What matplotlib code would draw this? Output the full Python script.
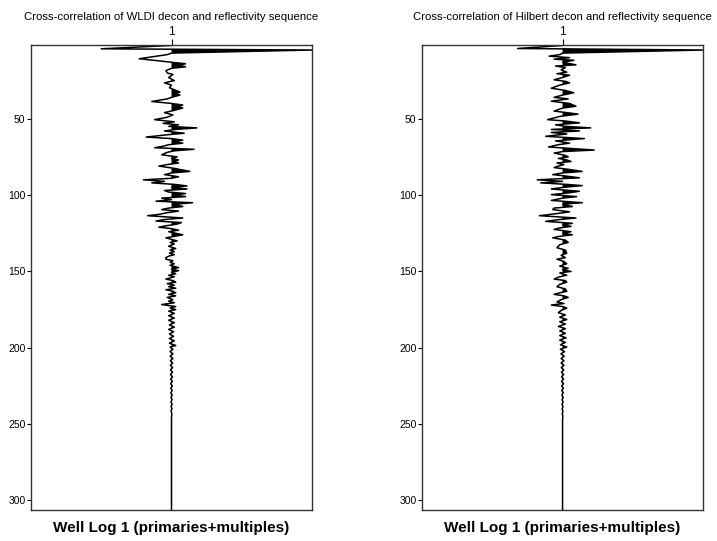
import numpy as np
import matplotlib
matplotlib.use('Agg')
import matplotlib.pyplot as plt

# --- Trace readings: (depth sample, normalised amplitude) picked off the plot
wldi_trace = [
    (0, 0), (2, 0), (4.2, -0.50), (5, 1.00), (7, 0.0), (8, -0.03), (10.7, -0.23),
    (12.5, -0.05), (14, 0.10), (15, 0.05), (16, 0.10), (17, 0.0), (18.5, -0.04),
    (20, -0.03), (21, 0.01), (23, -0.02), (25, 0.02), (26.5, -0.05), (28, 0.0),
    (29.7, -0.015), (31, 0.02), (32.5, 0.06), (33.5, 0.03), (34.5, 0.06), (36, 0.0),
    (37, -0.03), (38.7, -0.14), (40, 0.0), (41, 0.08), (42, 0.05), (43, 0.08),
    (44.5, 0.02), (46, -0.05), (47.5, 0.01), (49, -0.03), (50.6, -0.12), (52, 0.02),
    (53, -0.06), (54, 0.05), (55, -0.02), (56, 0.18), (57, 0.03), (58, -0.05),
    (59.5, 0.09), (60.5, -0.03), (62, -0.18), (63, 0.0), (64, 0.08), (65, 0.02),
    (66, 0.08), (67, -0.02), (68, -0.06), (69, -0.12), (70, 0.16), (71, 0.02),
    (72, -0.03), (73.6, -0.07), (75, 0.04), (76, 0.0), (77, 0.05), (78, 0.02),
    (79, 0.05), (80, -0.03), (81, -0.09), (82.5, 0.02), (84.5, 0.13), (85.5, 0.0),
    (86.6, -0.05), (88, 0.05), (89, 0.0), (90, -0.20), (91, -0.05), (92, -0.14),
    (93, 0.02), (94, 0.11), (95, 0.0), (96, 0.11), (97, -0.05), (98, -0.02),
    (99, 0.10), (100, 0.02), (101, 0.10), (102, -0.07), (103, 0.0), (104, -0.11),
    (105, 0.15), (106, 0.02), (107.5, 0.08), (108.5, -0.02), (109.5, -0.07),
    (110.5, 0.05), (111.5, -0.03), (112.5, -0.08), (113.5, -0.17), (115, 0.08),
    (116, -0.05), (117, -0.11), (118, 0.07), (119, 0.04), (120, -0.03), (121, -0.09),
    (122, 0.0), (123, 0.05), (124, -0.02), (125, 0.03), (126, 0.08), (127, 0.02),
    (128, -0.04), (129, 0.0), (130, 0.04), (131, -0.01), (132, 0.02), (133.5, -0.02),
    (135, 0.03), (136, -0.01), (137, 0.02), (138, -0.015), (139, 0.02), (140, -0.02),
    (141, -0.04), (142, -0.04), (143, 0.01), (144, -0.01), (145, 0.02), (146, -0.01),
    (147.5, 0.05), (148.5, 0.0), (149.5, 0.05), (150.5, 0.0), (151.5, 0.03),
    (152.5, -0.02), (153.5, 0.02), (155, -0.04), (156, 0.01), (157, 0.03),
    (158, -0.03), (159, 0.02), (160, -0.02), (161, 0.03), (162, -0.04), (163, 0.01),
    (164, 0.03), (165, -0.02), (166, 0.03), (167, -0.03), (168.5, 0.01),
    (169.5, -0.02), (170.5, 0.02), (171.7, -0.07), (173, 0.03), (174, -0.01),
    (175, 0.03), (176, -0.02), (177.5, 0.02), (179, -0.02), (180.5, 0.02),
    (182, -0.02), (183.5, 0.02), (185, -0.015), (186.5, 0.02), (188, -0.02),
    (189.5, 0.015), (191, -0.015), (192.5, 0.015), (194, -0.015), (195.5, 0.02),
    (197, -0.015), (198.5, 0.03), (199.5, -0.01), (201, 0.01), (202.5, -0.01),
    (204, 0.01), (205.5, -0.01), (207, 0.01), (208.5, -0.008), (210, 0.008),
    (211.5, -0.008), (213, 0.008), (214.5, -0.007), (216, 0.007), (217.5, -0.007),
    (219, 0.007), (220.5, -0.006), (222, 0.006), (223.5, -0.006), (225, 0.006),
    (226.5, -0.005), (228, 0.005), (229.5, -0.005), (231, 0.005), (232.5, -0.004),
    (234, 0.004), (235.5, -0.004), (237, 0.004), (238.5, -0.003), (240, 0.003),
    (241.5, -0.003), (243, 0.002), (246, 0), (306, 0),
]

hilbert_trace = [
    (0, 0), (2, 0), (4.0, -0.32), (5, 1.00), (7, 0.0), (8, -0.02), (9, -0.095),
    (10, 0.05), (11, -0.06), (11.7, 0.08), (13, 0.0), (14.7, 0.095), (15.5, -0.05),
    (16.5, 0.02), (18, -0.01), (19.5, 0.03), (20.5, -0.04), (21.5, 0.05), (23, 0.0),
    (24.5, -0.06), (25.5, 0.02), (26.5, 0.05), (28, -0.02), (30, -0.08),
    (31.5, 0.02), (33, 0.08), (34.5, 0.0), (36, -0.06), (37, 0.04), (38.5, -0.08),
    (40, 0.05), (41.8, 0.095), (43, 0.0), (45, -0.06), (46, 0.03), (47, 0.11),
    (48.5, -0.02), (50.6, -0.107), (51.5, 0.02), (52.7, 0.12), (54, -0.05),
    (55, 0.02), (56, 0.20), (57, -0.08), (58, 0.12), (59, -0.08), (60, 0.03),
    (61.5, -0.12), (63, 0.155), (64.5, -0.05), (66, 0.05), (67, -0.03),
    (68.5, -0.10), (70.5, 0.225), (71.5, 0.0), (72.5, -0.06), (74, 0.02),
    (75, 0.04), (76, -0.03), (77, 0.03), (78, 0.06), (79, -0.04), (80, 0.01),
    (81, -0.03), (82, -0.06), (83, 0.03), (84.5, 0.14), (85.5, 0.0), (86.6, -0.07),
    (87.5, 0.02), (88.7, 0.12), (90, -0.18), (91, 0.0), (92, -0.155), (93, 0.03),
    (93.8, 0.14), (95, 0.0), (96, -0.08), (97.5, 0.12), (98.5, 0.05), (99.7, -0.08),
    (101, 0.10), (102, 0.0), (103.5, -0.08), (105, 0.14), (106, 0.0), (107.5, 0.07),
    (108.5, -0.06), (109.5, -0.07), (111, 0.05), (112, -0.03), (113.5, -0.165),
    (115, 0.095), (116, -0.02), (117.2, -0.12), (118.5, 0.07), (119.5, 0.0),
    (120.5, 0.06), (121.5, -0.02), (122.5, -0.06), (124, 0.06), (125, 0.0),
    (126, 0.07), (127, -0.02), (128, -0.07), (129.5, 0.02), (131, 0.04),
    (132.5, -0.02), (134.5, -0.04), (136, 0.02), (138, 0.03), (139.5, -0.01),
    (141, 0.02), (142, -0.04), (143.5, 0.01), (145, 0.03), (146.5, -0.02),
    (148, 0.04), (149, 0.0), (150, 0.06), (151, -0.02), (152.5, 0.03),
    (153.5, -0.02), (155, -0.06), (156, 0.02), (157, 0.03), (158.5, -0.02),
    (160, -0.04), (161.5, 0.02), (163, 0.03), (164, -0.02), (165, -0.06),
    (166, 0.01), (167, 0.04), (168.5, -0.01), (170, -0.04), (171, 0.01),
    (172, -0.08), (173, 0.0), (174, 0.03), (175.5, -0.01), (177, -0.03),
    (178.5, 0.02), (180, -0.02), (181.5, 0.03), (183, -0.02), (184.5, 0.02),
    (186, -0.03), (187.5, 0.02), (189, -0.02), (190.5, 0.02), (192, -0.02),
    (193.5, 0.025), (195, -0.02), (196.5, 0.02), (198, -0.015), (199.5, 0.03),
    (201, -0.015), (202.5, 0.015), (204, -0.012), (205.5, 0.012), (207, -0.01),
    (208.5, 0.01), (210, -0.01), (211.5, 0.01), (213, -0.009), (214.5, 0.009),
    (216, -0.008), (217.5, 0.008), (219, -0.007), (220.5, 0.007), (222, -0.007),
    (223.5, 0.007), (225, -0.006), (226.5, 0.006), (228, -0.006), (229.5, 0.005),
    (231, -0.005), (232.5, 0.005), (234, -0.004), (235.5, 0.004), (237, -0.004),
    (238.5, 0.003), (240, -0.003), (241.5, 0.003), (243, -0.002), (245, 0.002),
    (247, 0), (306, 0),
]

titles = ['Cross-correlation of WLDI decon and reflectivity sequence',
          'Cross-correlation of Hilbert decon and reflectivity sequence']
xlabel = 'Well Log 1 (primaries+multiples)'
trace_labels = ['1']
yticks = [50, 100, 150, 200, 250, 300]

plt.rcParams['font.family'] = ['Liberation Sans', 'DejaVu Sans']

fig = plt.figure(figsize=(7.17, 5.41), dpi=100)
lefts = [0.0432, 0.5886]
width = 0.392

for left, trace, title in zip(lefts, [wldi_trace, hilbert_trace], titles):
    ax = fig.add_axes([left, 0.058, width, 0.858])
    depth, amp = np.array(trace).T
    ax.fill_betweenx(depth, 0, amp, where=amp > 0, interpolate=True,
                     color='black', linewidth=0)
    ax.plot(amp, depth, color='black', linewidth=1.1)
    ax.set_xlim(-1, 1)
    ax.set_ylim(306, 2)

    ax.set_yticks(yticks)
    ax.tick_params(axis='y', length=3, width=0.8, pad=1, labelsize=7.5)
    ax.xaxis.set_ticks_position('top')
    ax.set_xticks([0])
    ax.set_xticklabels(trace_labels)
    ax.tick_params(axis='x', length=4, width=0.8, pad=1.5, labelsize=8.5)
    for sp in ax.spines.values():
        sp.set_linewidth(1.0)
        sp.set_color('#333333')

    # title sits above the trace number, placed in figure coords
    fig.text(left + width / 2, 0.968, title, fontsize=8.2,
             ha='center', va='center')
    ax.set_xlabel(xlabel, fontsize=11, fontweight='bold', labelpad=8)
    ax.xaxis.set_label_position('bottom')

fig.savefig('out.png', dpi=100)
